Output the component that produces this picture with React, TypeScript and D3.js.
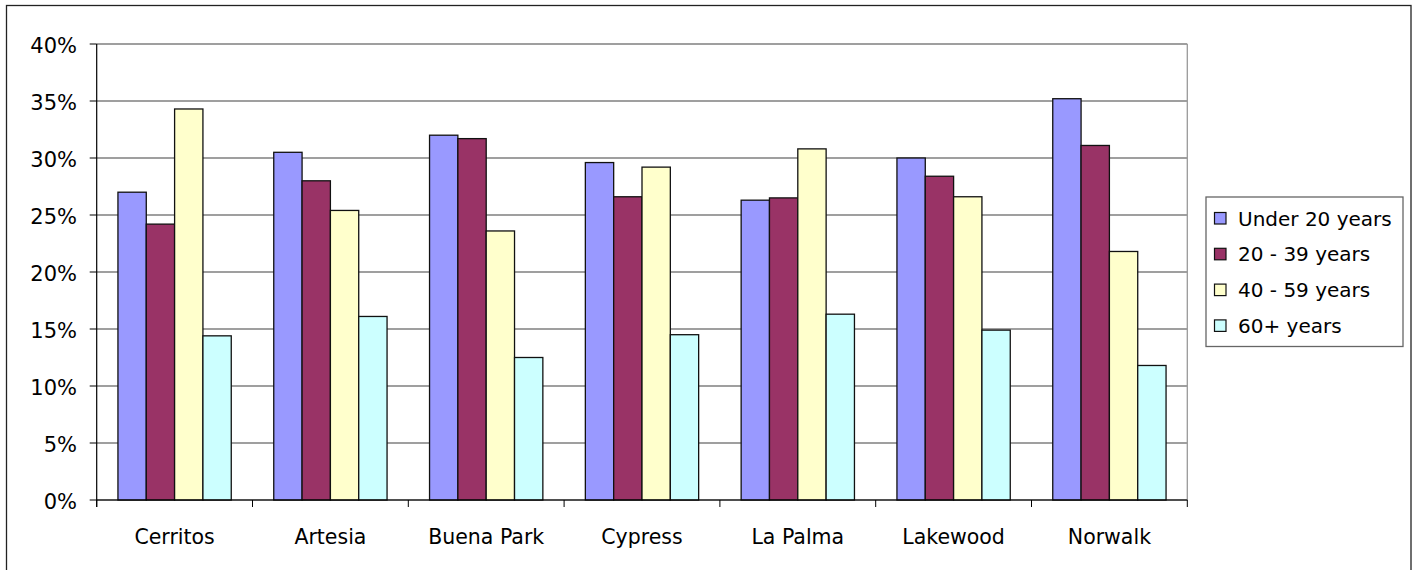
import React from "react";
import * as d3 from "d3";

// Age distribution by city (share of population)
const cities = ["Cerritos", "Artesia", "Buena Park", "Cypress", "La Palma", "Lakewood", "Norwalk"];
const seriesNames = ["Under 20 years", "20 - 39 years", "40 - 59 years", "60+ years"];
const under20 = [27.0, 30.5, 32.0, 29.6, 26.3, 30.0, 35.2];
const age20to39 = [24.2, 28.0, 31.7, 26.6, 26.5, 28.4, 31.1];
const age40to59 = [34.3, 25.4, 23.6, 29.2, 30.8, 26.6, 21.8];
const age60plus = [14.4, 16.1, 12.5, 14.5, 16.3, 14.9, 11.8];
const seriesColors = ["#9999FF", "#993366", "#FFFFCC", "#CCFFFF"];
const yTicks = [0, 5, 10, 15, 20, 25, 30, 35, 40];

const seriesValues = [under20, age20to39, age40to59, age60plus];

const W = 1417;
const H = 570;
const plot = { left: 96.7, right: 1187.3, top: 44, bottom: 500 };
const FONT = "'DejaVu Sans', Verdana, sans-serif";

export default function App() {
  const x0 = d3.scaleBand<string>().domain(cities).range([plot.left, plot.right]).padding(0);
  const x1 = d3
    .scaleBand<string>()
    .domain(seriesNames)
    .range([0, x0.bandwidth()])
    .paddingInner(0)
    .paddingOuter(0.75);
  const y = d3.scaleLinear().domain([0, 40]).range([plot.bottom, plot.top]);

  const boundaries = cities.map((c) => x0(c) as number).concat([plot.right]);

  return (
    <svg
      width={W}
      height={H}
      style={{ position: "absolute", left: 0, top: 0, background: "#fff" }}
      fontFamily={FONT}
    >
      {/* chart area frame */}
      <rect x={6.5} y={5.5} width={1404.5} height={600} fill="#fff" stroke="#222" strokeWidth={1.3} />

      {/* horizontal gridlines */}
      {yTicks.map((t) => (
        <line
          key={"g" + t}
          x1={plot.left}
          x2={plot.right}
          y1={y(t)}
          y2={y(t)}
          stroke="#000"
          strokeWidth={1}
          opacity={0.75}
        />
      ))}
      {/* plot area right edge */}
      <line x1={plot.right} x2={plot.right} y1={plot.top} y2={plot.bottom} stroke="#999" strokeWidth={1.3} />

      {/* bars */}
      {cities.map((city, ci) => (
        <g key={city} transform={`translate(${x0(city)},0)`}>
          {seriesNames.map((s, si) => {
            const v = seriesValues[si][ci];
            return (
              <rect
                key={s}
                x={x1(s) as number}
                y={y(v)}
                width={x1.bandwidth()}
                height={y(0) - y(v)}
                fill={seriesColors[si]}
                stroke="#111"
                strokeWidth={1.3}
              />
            );
          })}
        </g>
      ))}

      {/* y axis */}
      <line x1={plot.left} x2={plot.left} y1={plot.top} y2={plot.bottom + 7} stroke="#000" strokeWidth={1.2} />
      {yTicks.map((t) => (
        <g key={"yt" + t}>
          <line x1={plot.left - 7} x2={plot.left} y1={y(t)} y2={y(t)} stroke="#000" strokeWidth={1} />
          <text x={77} y={y(t) + 8.8} textAnchor="end" fontSize={21} fill="#000">
            {t + "%"}
          </text>
        </g>
      ))}

      {/* x axis */}
      <line x1={plot.left} x2={plot.right} y1={plot.bottom} y2={plot.bottom} stroke="#000" strokeWidth={1.2} />
      {boundaries.map((bx, i) => (
        <line key={"xt" + i} x1={bx} x2={bx} y1={plot.bottom} y2={plot.bottom + 7} stroke="#000" strokeWidth={1} />
      ))}
      {cities.map((c) => (
        <text
          key={"xl" + c}
          x={(x0(c) as number) + x0.bandwidth() / 2}
          y={544}
          textAnchor="middle"
          fontSize={20.5}
          fill="#000"
        >
          {c}
        </text>
      ))}

      {/* legend */}
      <rect x={1206} y={197} width={197} height={149.5} fill="#fff" stroke="#666" strokeWidth={1.3} />
      {seriesNames.map((s, i) => {
        const cy = 218.5 + i * 35.8;
        return (
          <g key={"lg" + s}>
            <rect x={1214.5} y={cy - 6} width={11.5} height={11.5} fill={seriesColors[i]} stroke="#111" strokeWidth={1.2} />
            <text x={1238} y={cy + 7} fontSize={20} fill="#000">
              {s}
            </text>
          </g>
        );
      })}
    </svg>
  );
}
